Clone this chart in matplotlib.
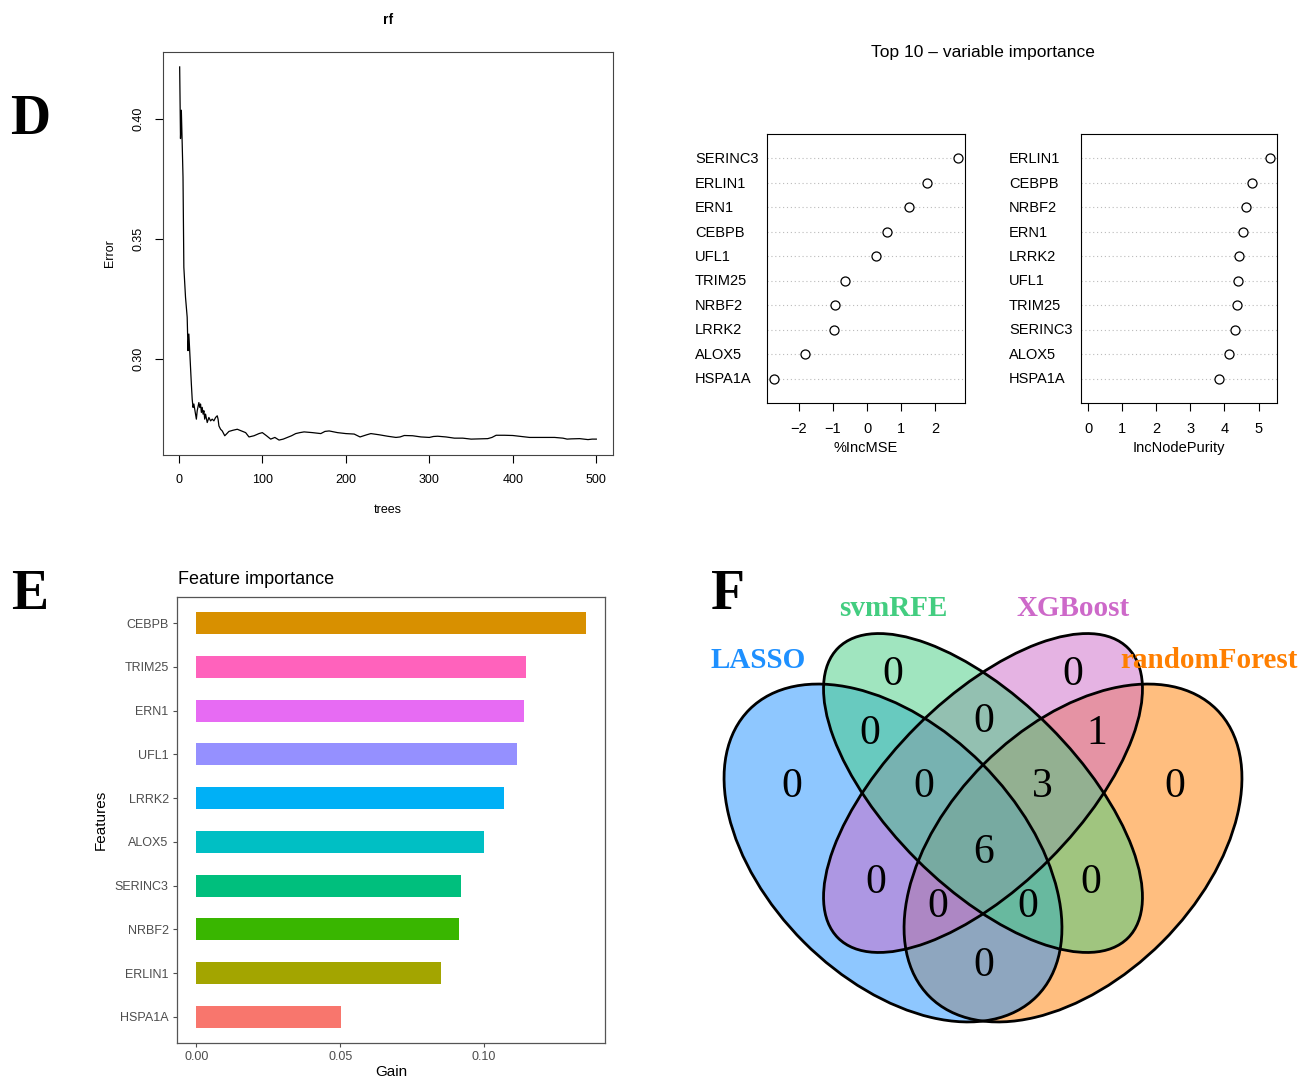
import matplotlib
matplotlib.use('Agg')
import matplotlib.pyplot as plt
from matplotlib.patches import Ellipse
from matplotlib.transforms import blended_transform_factory

# --- data -------------------------------------------------------------
# random forest OOB error vs number of trees
trees = [
    1, 2, 3, 4, 5, 6, 8, 10, 11, 12,
    13, 15, 16, 17, 18, 19, 21, 22, 24, 25,
    26, 27, 28, 29, 30, 31, 32, 34, 36, 38,
    40, 42, 44, 46, 47, 48, 50, 52, 55, 57,
    60, 65, 70, 75, 80, 84, 90, 96, 100, 105,
    110, 115, 120, 125, 130, 135, 140, 145, 150, 160,
    170, 175, 180, 190, 200, 210, 217, 225, 230, 240,
    250, 260, 265, 270, 280, 290, 300, 305, 310, 320,
    330, 340, 350, 360, 370, 375, 380, 390, 400, 410,
    420, 430, 440, 450, 460, 465, 470, 480, 490, 495,
    500]
err = [
    0.4215, 0.3917, 0.4035, 0.3900, 0.3757, 0.3382, 0.3257, 0.3174, 0.3035, 0.3104,
    0.3035, 0.2896, 0.2833, 0.2799, 0.2813, 0.2792, 0.2750, 0.2785, 0.2819, 0.2799,
    0.2813, 0.2778, 0.2799, 0.2771, 0.2785, 0.2750, 0.2771, 0.2736, 0.2757, 0.2743,
    0.2750, 0.2743, 0.2757, 0.2764, 0.2750, 0.2722, 0.2708, 0.2701, 0.2681, 0.2688,
    0.2699, 0.2704, 0.2708, 0.2701, 0.2694, 0.2676, 0.2681, 0.2690, 0.2694, 0.2681,
    0.2667, 0.2674, 0.2663, 0.2667, 0.2674, 0.2681, 0.2690, 0.2694, 0.2697, 0.2694,
    0.2690, 0.2699, 0.2701, 0.2694, 0.2690, 0.2688, 0.2676, 0.2685, 0.2690, 0.2685,
    0.2679, 0.2674, 0.2676, 0.2682, 0.2681, 0.2676, 0.2674, 0.2678, 0.2679, 0.2676,
    0.2671, 0.2671, 0.2667, 0.2668, 0.2669, 0.2674, 0.2683, 0.2683, 0.2682, 0.2678,
    0.2674, 0.2674, 0.2674, 0.2674, 0.2671, 0.2667, 0.2668, 0.2669, 0.2665, 0.2667,
    0.2667]

# variable importance (top to bottom)
mse_genes = ['SERINC3', 'ERLIN1', 'ERN1', 'CEBPB', 'UFL1',
             'TRIM25', 'NRBF2', 'LRRK2', 'ALOX5', 'HSPA1A']
inc_mse = [2.65, 1.75, 1.22, 0.58, 0.26, -0.64, -0.93, -0.96, -1.81, -2.71]
np_genes = ['ERLIN1', 'CEBPB', 'NRBF2', 'ERN1', 'LRRK2',
            'UFL1', 'TRIM25', 'SERINC3', 'ALOX5', 'HSPA1A']
inc_np = [5.33, 4.80, 4.62, 4.53, 4.42, 4.39, 4.36, 4.30, 4.13, 3.84]

# xgboost gain (bottom to top)
features = ['HSPA1A', 'ERLIN1', 'NRBF2', 'SERINC3', 'ALOX5',
            'LRRK2', 'UFL1', 'ERN1', 'TRIM25', 'CEBPB']
gain = [0.0504, 0.0852, 0.0913, 0.0921, 0.1000,
        0.1068, 0.1114, 0.1138, 0.1145, 0.1353]
bar_colors = ['#F8766D', '#A3A500', '#39B600', '#00BF7D', '#00BFC4',
              '#00B0F6', '#9590FF', '#E76BF3', '#FF62BC', '#D89000']

# venn
set_names = ['LASSO', 'svmRFE', 'XGBoost', 'randomForest']
set_colors = ['#1E90FF', '#43CD80', '#CD69C9', '#FF7F00']
region_keys = ['L', 'S', 'X', 'R', 'LS', 'SX', 'XR', 'LSX', 'SXR',
               'LSXR', 'LX', 'SR', 'LXR', 'LSR', 'LR']
region_counts = [0, 0, 0, 0, 0, 0, 1, 0, 3, 6, 0, 0, 0, 0, 0]

# --- layout helpers ---------------------------------------------------
W, H = 1307, 1080
fig = plt.figure(figsize=(W / 100, H / 100), dpi=100)
plt.rcParams['font.family'] = ['Liberation Sans', 'DejaVu Sans']


def fx(px):
    return px / W


def fy(py):
    return 1 - py / H


def box(l, t, r, b):
    return [l / W, 1 - b / H, (r - l) / W, (b - t) / H]


def rpad(lo, hi):
    d = (hi - lo) * 0.04
    return lo - d, hi + d


serif = 'Liberation Serif'

# --- D: error vs trees ------------------------------------------------
axD = fig.add_axes(box(163, 52, 613, 455))
axD.plot(trees, err, color='black', lw=0.9)
axD.set_xlim(*rpad(1, 500))
axD.set_ylim(*rpad(min(err), max(err)))
axD.set_xticks([0, 100, 200, 300, 400, 500])
axD.set_yticks([0.30, 0.35, 0.40])
axD.set_yticklabels(['0.30', '0.35', '0.40'], rotation=90, va='center')
axD.tick_params(direction='out', length=6, width=0.8, labelsize=9, pad=7.5)
for s in axD.spines.values():
    s.set_linewidth(0.8)
    s.set_color('#444444')
fig.text(fx(388), fy(20), 'rf', ha='center', va='center', fontsize=10, fontweight='bold')
fig.text(fx(388), fy(510), 'trees', ha='center', va='center', fontsize=9)
fig.text(fx(110), fy(253), 'Error', ha='center', va='center', fontsize=9, rotation=90)
fig.text(fx(30), fy(120), 'D', ha='center', va='center', fontsize=40,
         fontweight='bold', family=serif)

# --- variable importance dotcharts ------------------------------------
fig.text(fx(983), fy(53), 'Top 10 \u2013 variable importance', ha='center', va='center',
         fontsize=12.5)


def dotchart(rect, names, vals, xlim, xticks, xlabel, label_x):
    ax = fig.add_axes(box(*rect))
    n = len(names)
    ypos = list(range(n, 0, -1))
    for y in ypos:
        ax.axhline(y, color='#BBBBBB', lw=0.8, ls=(0, (1, 2.5)), zorder=1)
    ax.plot(vals, ypos, 'o', mfc='white', mec='black', ms=6.5, mew=0.9, zorder=3)
    ax.set_xlim(*xlim)
    ax.set_ylim(0, n + 1)
    ax.set_yticks([])
    ax.set_xticks(xticks)
    ax.tick_params(direction='out', length=6, width=0.8, labelsize=10.5, pad=8)
    for s in ax.spines.values():
        s.set_linewidth(0.8)
    tr = blended_transform_factory(fig.transFigure, ax.transData)
    for name, y in zip(names, ypos):
        ax.text(fx(label_x), y - 0.03, name, transform=tr, ha='left', va='center',
                fontsize=10.5)
    fig.text(fx((rect[0] + rect[2]) / 2), fy(448), xlabel, ha='center', va='center',
             fontsize=10.5)
    return ax


dotchart((767, 134, 965, 403), mse_genes, inc_mse, rpad(min(inc_mse), max(inc_mse)),
         [-2, -1, 0, 1, 2], '%IncMSE', 695)
dotchart((1081, 134, 1277, 403), np_genes, inc_np, rpad(0, max(inc_np)),
         [0, 1, 2, 3, 4, 5], 'IncNodePurity', 1009)

# --- E: feature importance bars ----------------------------------------
axE = fig.add_axes(box(177, 597, 605, 1043))
ypos = list(range(1, len(features) + 1))
axE.barh(ypos, gain, height=0.5, color=bar_colors)
axE.set_xlim(-0.05 * max(gain), 1.05 * max(gain))
axE.set_ylim(0.4, len(features) + 0.6)
axE.set_yticks(ypos)
axE.set_yticklabels(features)
axE.set_xticks([0.0, 0.05, 0.10])
axE.set_xticklabels(['0.00', '0.05', '0.10'])
axE.tick_params(direction='out', length=3, width=0.8, labelsize=9, colors='#4D4D4D',
                pad=3)
for s in axE.spines.values():
    s.set_linewidth(0.9)
    s.set_color('#555555')
fig.text(fx(178), fy(579), 'Feature importance', ha='left', va='center', fontsize=13)
fig.text(fx(391), fy(1072), 'Gain', ha='center', va='center', fontsize=11)
fig.text(fx(101), fy(820), 'Features', ha='center', va='center', fontsize=11, rotation=90)
fig.text(fx(30), fy(595), 'E', ha='center', va='center', fontsize=40,
         fontweight='bold', family=serif)

# --- F: venn diagram ---------------------------------------------------
axF = fig.add_axes([0, 0, 1, 1], zorder=-1)
axF.set_xlim(0, W)
axF.set_ylim(H, 0)
axF.axis('off')
# ellipse geometry: centre, full width, full height, angle
shapes = [((893, 853), 406, 252, 45),
          ((983, 793), 410, 188, 45),
          ((983, 793), 410, 188, -45),
          ((1073, 853), 406, 252, -45)]
# fill order as in the original: randomForest, LASSO, XGBoost, svmRFE
for i in [3, 0, 2, 1]:
    c, w, h, a = shapes[i]
    axF.add_patch(Ellipse(c, w, h, angle=a, facecolor=set_colors[i], alpha=0.5, lw=0))
for (c, w, h, a) in shapes:
    axF.add_patch(Ellipse(c, w, h, angle=a, facecolor='none', edgecolor='black', lw=2))

label_pos = {'L': (792, 787), 'S': (893, 675), 'X': (1073, 675), 'R': (1175, 787),
             'LS': (870, 734), 'SX': (984, 722), 'XR': (1097, 734),
             'LSX': (924, 787), 'SXR': (1042, 787), 'LSXR': (984, 853),
             'LX': (876, 883), 'SR': (1091, 883), 'LXR': (938, 907),
             'LSR': (1028, 907), 'LR': (984, 966)}
for k, v in zip(region_keys, region_counts):
    x, y = label_pos[k]
    axF.text(x, y, str(v), ha='center', va='center', fontsize=30, family=serif)

name_pos = [(758, 661), (893, 609), (1073, 609), (1209, 661)]
for name, (x, y), col in zip(set_names, name_pos, set_colors):
    axF.text(x, y, name, ha='center', va='center', fontsize=21, fontweight='bold',
             family=serif, color=col)
fig.text(fx(728), fy(595), 'F', ha='center', va='center', fontsize=40,
         fontweight='bold', family=serif)

fig.savefig('out.png', dpi=100, facecolor='white')
